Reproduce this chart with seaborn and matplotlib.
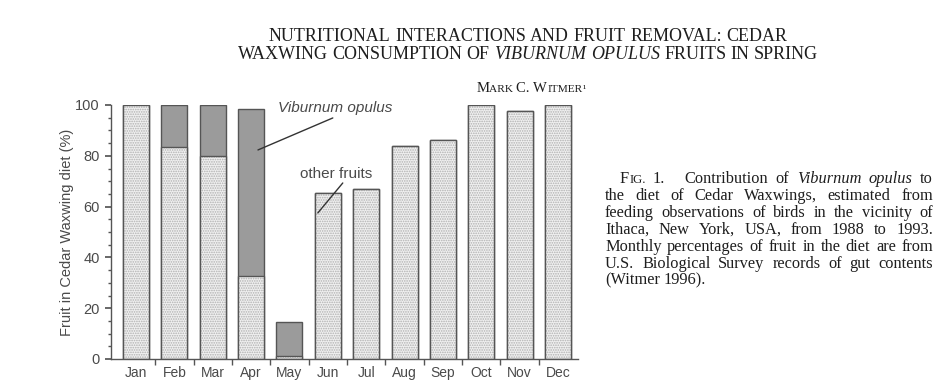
import numpy as np
import pandas as pd
import matplotlib
matplotlib.use("Agg")
import matplotlib.pyplot as plt
from matplotlib.transforms import IdentityTransform
import seaborn as sns

# monthly fruit in Cedar Waxwing diet (%)
months = ["Jan", "Feb", "Mar", "Apr", "May", "Jun",
          "Jul", "Aug", "Sep", "Oct", "Nov", "Dec"]
other_fruits = [100, 83.5, 79.8, 32.7, 1.3, 65.5, 66.9, 84.0, 86.2, 100, 97.8, 100]
viburnum = [0, 16.5, 20.2, 65.7, 13.4, 0, 0, 0, 0, 0, 0, 0]

title_lines = [
    "NUTRITIONAL INTERACTIONS AND FRUIT REMOVAL: CEDAR",
    "WAXWING CONSUMPTION OF _VIBURNUM _OPULUS FRUITS IN SPRING",
]
caption_lines = [
    "FIG. 1. Contribution of _Viburnum _opulus to",
    "the diet of Cedar Waxwings, estimated from",
    "feeding observations of birds in the vicinity of",
    "Ithaca, New York, USA, from 1988 to 1993.",
    "Monthly percentages of fruit in the diet are from",
    "U.S. Biological Survey records of gut contents",
    "(Witmer 1996).",
]

W, H = 949, 385
SERIF = ["Liberation Serif", "DejaVu Serif"]
INK = "#1e1e1e"
GREY_TXT = "#4a4a4a"
EDGE = "#555555"
DARK = "#9b9b9b"
LIGHT = "#f0f0f0"
DOTS = "#b0b0b0"

sns.set_theme(style="ticks")
plt.rcParams["font.family"] = ["Liberation Sans", "DejaVu Sans"]
plt.rcParams["hatch.linewidth"] = 0.8

fig = plt.figure(figsize=(W / 100, H / 100), dpi=100)
ax = fig.add_axes([111 / W, 26 / H, 467 / W, 254 / H])

df = pd.DataFrame({"month": months, "other": other_fruits, "viburnum": viburnum})
df["total"] = df["other"] + df["viburnum"]

# Viburnum part = full stacked height, other fruits drawn over it
sns.barplot(data=df, x="month", y="total", color=DARK, saturation=1, width=0.68,
            errorbar=None, edgecolor=EDGE, linewidth=1.0, ax=ax)
sns.barplot(data=df, x="month", y="other", color=LIGHT, saturation=1, width=0.68,
            errorbar=None, hatch=".......", edgecolor=DOTS, linewidth=0, ax=ax)
sns.barplot(data=df, x="month", y="other", color=EDGE, fill=False, width=0.68,
            errorbar=None, linewidth=1.0, ax=ax)

ax.set_xlim(-0.65, 11.52)
ax.set_ylim(0, 100)
sns.despine(ax=ax)
for s in ["left", "bottom"]:
    ax.spines[s].set_color(EDGE)
    ax.spines[s].set_linewidth(1.0)

ax.set_yticks(range(0, 101, 20))
ax.set_yticks(range(0, 101, 5), minor=True)
ax.set_xticks(np.arange(0.5, 11, 1), minor=True)
ax.tick_params(axis="x", which="major", length=0, pad=5, labelsize=10, labelcolor=GREY_TXT)
ax.tick_params(axis="x", which="minor", length=4, color=EDGE)
ax.tick_params(axis="y", which="major", length=4, pad=4, labelsize=10.5,
               labelcolor=GREY_TXT, color=EDGE)
ax.tick_params(axis="y", which="minor", length=2.5, color=EDGE)
ax.set_xlabel("")
ax.set_ylabel("Fruit in Cedar Waxwing diet (%)", fontsize=10.5, color=GREY_TXT, labelpad=1)

# labels with leader lines
ax.text(5.18, 98.8, "Viburnum opulus", fontsize=11, style="italic",
        color=GREY_TXT, ha="center", va="center")
ax.annotate("", xy=(3.18, 82.3), xytext=(5.13, 94.9),
            arrowprops=dict(arrowstyle="-", color="#333333", lw=1.0,
                            shrinkA=0, shrinkB=0))
ax.text(5.22, 72.8, "other fruits", fontsize=11, color=GREY_TXT,
        ha="center", va="center")
ax.annotate("", xy=(4.74, 57.5), xytext=(5.39, 69.3),
            arrowprops=dict(arrowstyle="-", color="#333333", lw=1.0,
                            shrinkA=0, shrinkB=0))

renderer = fig.canvas.get_renderer()


def word_runs(word, size):
    if word.startswith("_"):
        return [(word[1:], size, "italic")]
    if word == "FIG.":
        return [("F", size, "normal"), ("IG.", size * 0.78, "normal")]
    return [(word, size, "normal")]


def make_word(runs, y):
    texts, widths = [], []
    for txt, size, style in runs:
        t = fig.text(0, y, txt, transform=IdentityTransform(), fontsize=size,
                     fontstyle=style, family=SERIF, color=INK, va="baseline")
        texts.append(t)
        widths.append(t.get_window_extent(renderer).width)
    return texts, widths


def place(items, gaps, x):
    for (texts, widths), g in zip(items, gaps + [0]):
        for t, w in zip(texts, widths):
            t.set_x(x)
            x += w
        x += g


def draw_line(line, y_top, size, x0=None, x1=None, center=None):
    y = H - y_top
    words = line.split(" ")
    items = [make_word(word_runs(w, size), y) for w in words]
    total = sum(sum(ws) for _, ws in items)
    space = size * 100 / 72 * 0.25
    weights = [2.6 if w == "1." else 1.0 for w in words[:-1]]
    if center is not None:
        gaps = [space * k for k in weights]
        place(items, gaps, center - (total + sum(gaps)) / 2)
    elif x1 is not None:
        g = (x1 - x0 - total) / sum(weights)
        place(items, [g * k for k in weights], x0)
    else:
        place(items, [space * k for k in weights], x0)


for i, line in enumerate(title_lines):
    draw_line(line, 41 + 18 * i, 13, center=528)

# author in small caps
author_runs = [("M", 10.5, "normal"), ("ARK ", 8.2, "normal"), ("C. ", 10.5, "normal"),
               ("W", 10.5, "normal"), ("ITMER", 8.2, "normal"), ("\u00b9", 8, "normal")]
a_texts, a_widths = make_word(author_runs, H - 92)
place([(a_texts, a_widths)], [], 531 - sum(a_widths) / 2)

for i, line in enumerate(caption_lines):
    last = i == len(caption_lines) - 1
    x0 = 620 if i == 0 else 605
    draw_line(line, 183 + 16.9 * i, 11.8, x0=x0, x1=None if last else 933)

fig.savefig("out.png", dpi=100)
